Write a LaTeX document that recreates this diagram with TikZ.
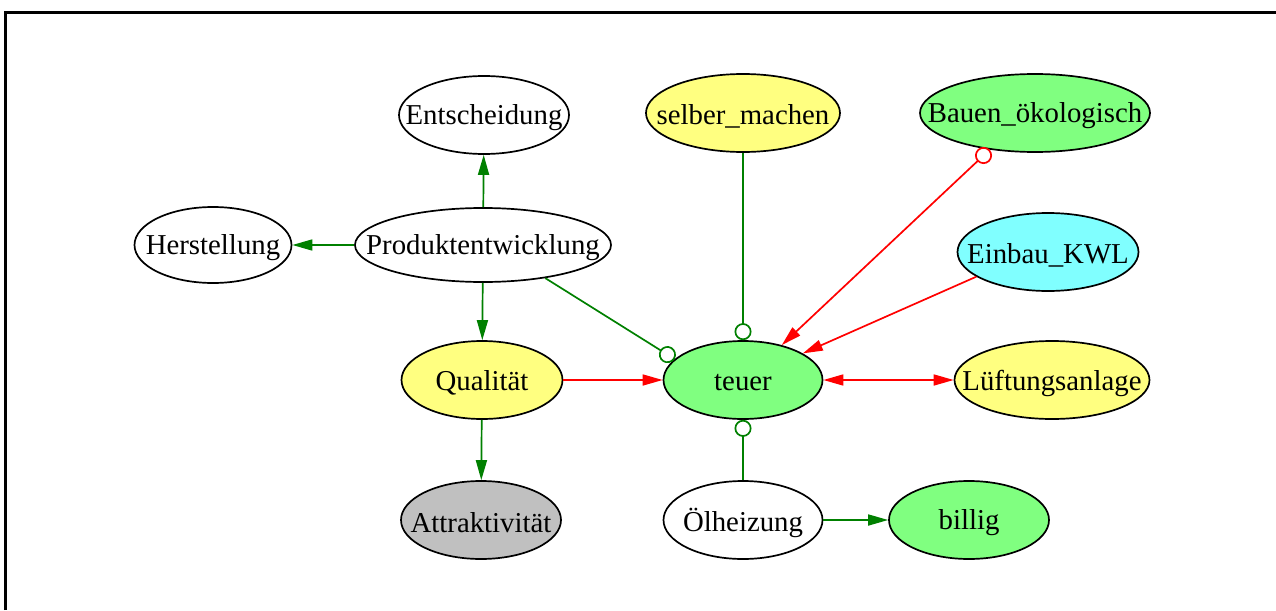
\documentclass[tikz,border=0pt]{standalone}
\usepackage{fontspec}
\setmainfont{Liberation Serif}
\usetikzlibrary{shapes.geometric,arrows.meta}
\definecolor{gvgreen}{HTML}{008000}
\definecolor{fgreen}{HTML}{80FF80}
\definecolor{fyellow}{HTML}{FFFF80}
\definecolor{fcyan}{HTML}{80FFFF}
\definecolor{fgray}{HTML}{C0C0C0}
\tikzset{
  gnode/.style={ellipse, draw=black, line width=1.7pt, inner sep=0pt, minimum height=78pt},
  txt/.style={label={[font=\fontsize{28.8}{30}\selectfont, inner sep=0pt, anchor=center, yshift=-3pt]center:#1}},
  ge/.style={draw=gvgreen, line width=1.7pt},
  re/.style={draw=red, line width=1.7pt},
  tip/.tip={Triangle[length=20pt,width=11pt]},
  otip/.tip={Circle[length=17pt,fill=white,line width=1.7pt]}
}
\begin{document}
\begin{tikzpicture}[x=1pt,y=-1pt]
\useasboundingbox (0,0) rectangle (1276,610);
\draw[line width=3pt] (5,610) -- (5,13) -- (1276,13);

\node[gnode, minimum width=170pt, txt=Entscheidung] (ent) at (484,115) {};
\node[gnode, fill=fyellow, minimum width=194pt, txt=selber\_machen] (sel) at (743,113) {};
\node[gnode, fill=fgreen, minimum width=230pt, txt=Bauen\_ökologisch] (bau) at (1035,113) {};
\node[gnode, minimum width=157pt, minimum height=76pt, txt=Herstellung] (her) at (213,245) {};
\node[gnode, minimum width=256pt, minimum height=74pt, txt=Produktentwicklung] (pro) at (483,245) {};
\node[gnode, fill=fcyan, minimum width=181pt, txt=Einbau\_KWL] (ein) at (1048,252) {};
\node[gnode, fill=fyellow, minimum width=161pt, txt=Qualität] (qua) at (482,380) {};
\node[gnode, fill=fgreen, minimum width=159pt, txt=teuer] (teu) at (743,380) {};
\node[gnode, fill=fyellow, minimum width=195pt, txt=Lüftungsanlage] (lue) at (1052,380) {};
\node[gnode, fill=fgray, minimum width=160pt, txt=Attraktivität] (att) at (481,520) {};
\node[gnode, minimum width=159pt, txt=Ölheizung] (oel) at (743,520) {};
\node[gnode, fill=fgreen, minimum width=160pt, txt=billig] (bil) at (969,520) {};

\draw[ge, -{tip[fill=gvgreen]}] (pro) -- (ent);
\draw[ge, -{tip[fill=gvgreen]}] (pro) -- (her);
\draw[ge, -{tip[fill=gvgreen]}] (pro) -- (qua);
\draw[ge, -{otip}] (pro.-28) -- (teu.163);
\draw[ge, -{otip}] (sel) -- (teu);
\draw[re, {otip}-{tip[fill=red]}] (bau.219) -- (teu.42);
\draw[re, -{tip[fill=red]}] (ein.199) -- (teu.24);
\draw[re, -{tip[fill=red]}] (qua) -- (teu);
\draw[re, {tip[fill=red]}-{tip[fill=red]}] (teu) -- (lue);
\draw[ge, -{otip}] (oel) -- (teu);
\draw[ge, -{tip[fill=gvgreen]}] (oel) -- (bil);
\draw[ge, -{tip[fill=gvgreen]}] (qua) -- (att);
\end{tikzpicture}
\end{document}
